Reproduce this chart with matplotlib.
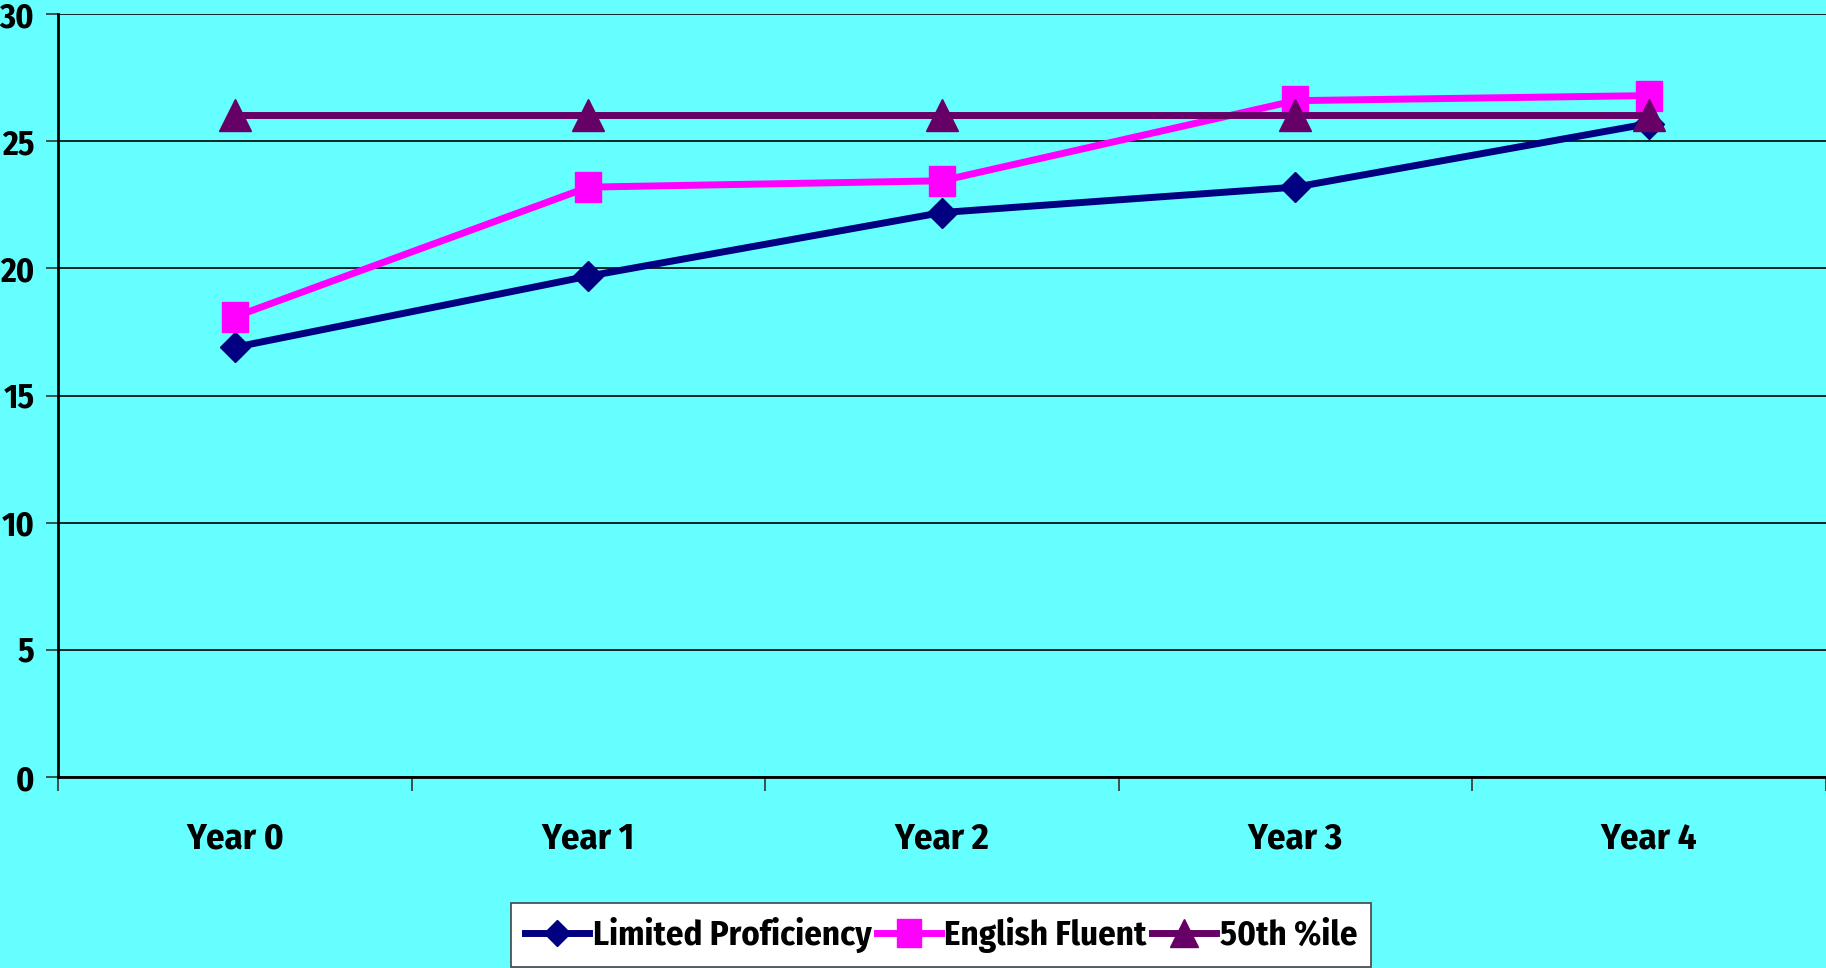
import matplotlib
matplotlib.use("Agg")
import matplotlib.pyplot as plt
from matplotlib.path import Path

# data
years = ["Year 0", "Year 1", "Year 2", "Year 3", "Year 4"]
limited = [16.9, 19.7, 22.2, 23.2, 25.7]
fluent = [18.1, 23.2, 23.45, 26.6, 26.8]
median = [26.05, 26.05, 26.05, 26.05, 26.05]

# condensed bold face, with plain fallbacks
plt.rcParams["font.family"] = ["Fira Sans Condensed", "Liberation Sans", "DejaVu Sans"]
plt.rcParams["font.weight"] = "bold"

bg = "#66ffff"
fig = plt.figure(figsize=(18.26, 9.68), dpi=100, facecolor=bg)
ax = fig.add_axes([0.0318, 0.1973, 0.968, 0.788])
ax.set_facecolor(bg)

# slightly tall square marker
tall_square = Path([(-0.42, -0.5), (0.42, -0.5), (0.42, 0.5), (-0.42, 0.5), (-0.42, -0.5)],
                   [Path.MOVETO, Path.LINETO, Path.LINETO, Path.LINETO, Path.CLOSEPOLY])

x = range(len(years))
ax.plot(x, limited, color="#000080", lw=5, marker="D", ms=15,
        label="Limited Proficiency", zorder=3)
ax.plot(x, fluent, color="#ff00ff", lw=5, marker=tall_square, ms=22,
        label="English Fluent", zorder=4)
ax.plot(x, median, color="#660066", lw=5, marker="^", ms=23,
        label="50th %ile", zorder=5)

ax.set_xlim(-0.5, len(years) - 0.5)
ax.set_ylim(0, 30)
ax.set_yticks(range(0, 31, 5))
ax.yaxis.grid(True, color="black", lw=1.2)
ax.set_axisbelow(True)

ax.set_xticks(list(x))
ax.set_xticklabels(years, fontsize=26.5, fontweight="bold")
ax.set_xticks([i - 0.5 for i in range(len(years) + 1)], minor=True)
ax.tick_params(axis="x", which="major", length=0, pad=32)
ax.tick_params(axis="x", which="minor", length=10, width=1.2, color="#333333")
ax.tick_params(axis="y", length=9, width=1.2, color="#333333", pad=8, labelsize=24.5)
for t in ax.get_yticklabels():
    t.set_fontweight("bold")

for side in ["top", "right"]:
    ax.spines[side].set_visible(False)
ax.spines["left"].set_linewidth(2)
ax.spines["bottom"].set_linewidth(2)

leg = fig.legend(loc="upper center", bbox_to_anchor=(941 / 1826, 1 - 903 / 968),
                 ncol=3, fontsize=25, frameon=True, fancybox=False,
                 edgecolor="#444444", facecolor="white", framealpha=1,
                 handlelength=1.85, handletextpad=0.1, columnspacing=0.15,
                 borderpad=0.4, borderaxespad=0, markerscale=0.9)
leg.get_frame().set_linewidth(1.2)
for t in leg.get_texts():
    t.set_fontweight("bold")

fig.savefig("out.png", dpi=100, facecolor=bg)
